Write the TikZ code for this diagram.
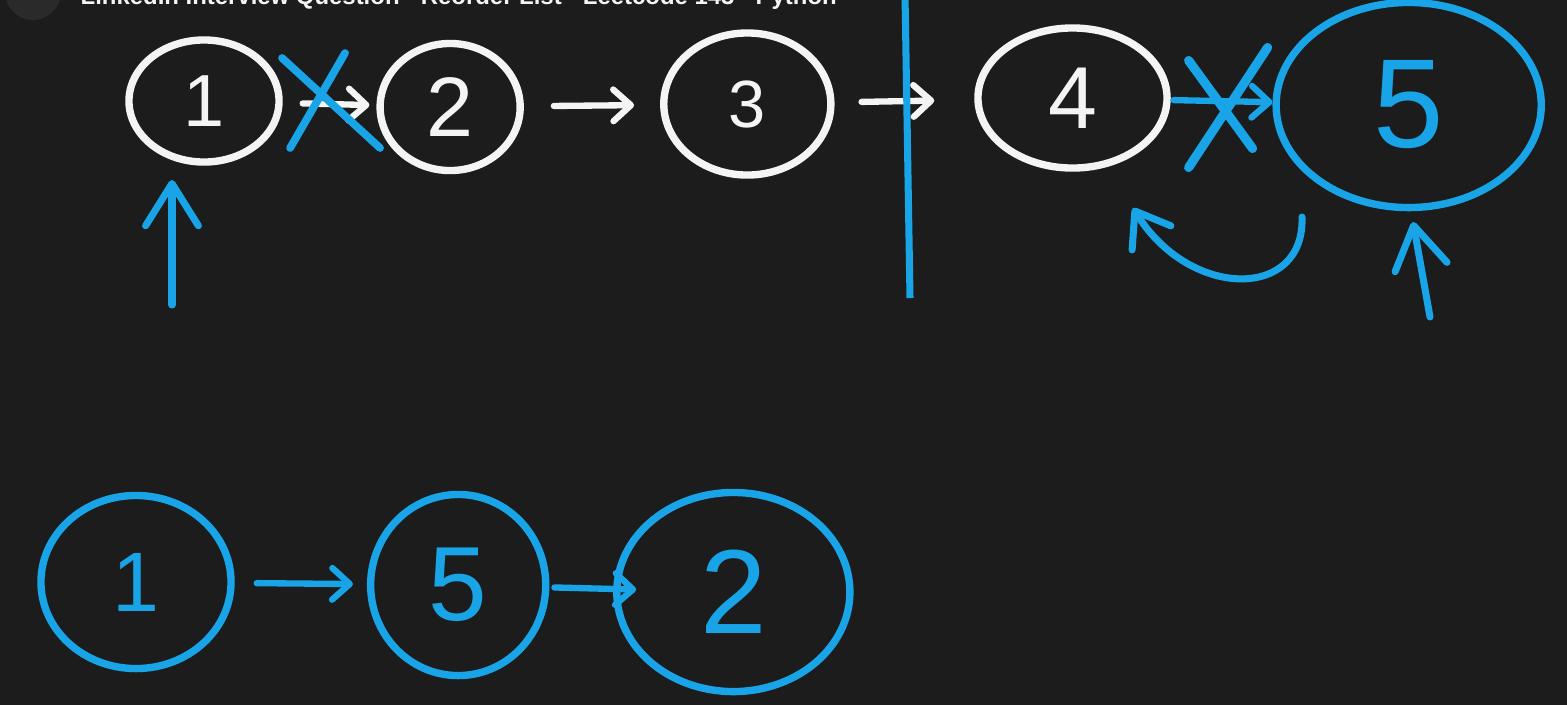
\documentclass[tikz,border=0pt]{standalone}
\usepackage{fontspec}
\setmainfont{Liberation Sans}
\usetikzlibrary{shapes.geometric,arrows.meta,positioning,calc}
\definecolor{board}{HTML}{1C1C1C}
\definecolor{avatar}{HTML}{2A2A2A}
\definecolor{chalk}{HTML}{F4F4F4}
\definecolor{marker}{HTML}{18A4E6}
\tikzset{%
whitenode/.style={ellipse, draw=chalk, line width=2.1pt, text=chalk, inner sep=0pt},
bluenode/.style={ellipse, draw=marker, line width=2.1pt, text=marker, inner sep=0pt},
wpt/.style={draw=chalk, line width=1.8pt, line cap=round, -{Straight Barb[length=5pt,width=9pt,round]}},
bpt/.style={draw=marker, line width=1.8pt, line cap=round, -{Straight Barb[length=5pt,width=9pt,round]}},
cross/.style={draw=marker, line width=2.2pt, line cap=round},
pointer/.style={draw=marker, line width=2pt, line cap=round, -{Straight Barb[length=12pt,width=15pt,round]}}
}

\begin{document}
\begin{tikzpicture}[x=0.01cm, y=-0.01cm, node distance=3cm]
		\useasboundingbox (0,0) rectangle (1567,705);
		\fill[board] (0,0) rectangle (1567,705);
		\clip (0,0) rectangle (1567,705);

		% cut-off title bar
		\fill[avatar] (33,-8) circle (28);
		\node[anchor=base west, text=chalk, inner sep=0pt, font=\fontsize{6.8}{7}\selectfont\bfseries] (title) at (80,4) {LinkedIn Interview Question - Reorder List - Leetcode 143 - Python};

		% original list
		\node[whitenode, minimum width=1.50cm, minimum height=1.22cm, font=\fontsize{21}{21}\selectfont] (one) at (204,101) {1};
		\node[whitenode, minimum width=1.40cm, minimum height=1.27cm, font=\fontsize{24}{24}\selectfont] (two) [right of=one, xshift=-5.4mm, yshift=-0.6mm] {2};
		\node[whitenode, minimum width=1.67cm, minimum height=1.42cm, font=\fontsize{19}{19}\selectfont] (three) [right of=two, xshift=-0.3mm, yshift=0.3mm] {3};
		\node[whitenode, minimum width=1.89cm, minimum height=1.40cm, font=\fontsize{25}{25}\selectfont] (four) [right of=three, xshift=2.5mm, yshift=0.6mm] {4};
		\node[bluenode, minimum width=2.65cm, minimum height=2.05cm, font=\fontsize{36}{36}\selectfont] (five) [right of=four, xshift=3.6mm, yshift=-0.7mm] {5};

		\path[wpt] (one) edge [shorten <=2mm, shorten >=0.7mm] (two);
		\path[wpt] (two) edge [shorten <=3mm, shorten >=2.6mm] (three);
		\path[wpt] (three) edge [shorten <=2.7mm, shorten >=4mm] (four);
		\path[bpt] (four) edge [shorten <=0.3mm] (five);

		% broken links
		\draw[cross] ($(one)!0.5!(two)$) +(-37,44) -- +(18,-51) +(-45,-46) -- +(53,44);
		\draw[cross, line width=2.6pt] ($(four)!0.5!(five)$) +(-52,-41) -- +(12,47) +(27,-54) -- +(-52,66);

		% split line
		\draw[marker, line width=2pt] (905,-5) -- (910,298);

		% reversed link
		\coordinate (revstart) at (1302,217);
		\coordinate (revend) at (1133,208);
		\draw[pointer, -{Straight Barb[length=9pt,width=13pt,round]}] (revstart) .. controls (1305,300) and (1190,300) .. (revend);

		% pointers
		\coordinate (headtail) at (172,305);
		\coordinate (headtip) at (172,180);
		\coordinate (tailtail) at (1430,317);
		\coordinate (tailtip) at (1413,222);
		\draw[pointer] (headtail) -- (headtip);
		\draw[pointer] (tailtail) -- (tailtip);

		% merged list
		\node[bluenode, minimum width=1.90cm, minimum height=1.73cm, font=\fontsize{24}{24}\selectfont] (mone) at (136,582) {1};
		\node[bluenode, minimum width=1.75cm, minimum height=1.81cm, font=\fontsize{30}{30}\selectfont] (mfive) [right of=mone, xshift=2.2mm, yshift=-0.3mm] {5};
		\node[bluenode, minimum width=2.33cm, minimum height=1.99cm, font=\fontsize{34}{34}\selectfont] (mtwo) [right of=mfive, xshift=-2.5mm, yshift=-0.7mm] {2};

		\path[bpt] (mone) edge [shorten <=2.2mm, shorten >=1.4mm] (mfive);
		\path[bpt] (mfive) edge [shorten <=0.5mm, shorten >=-2.3mm] (mtwo);
	\end{tikzpicture}
\end{document}
